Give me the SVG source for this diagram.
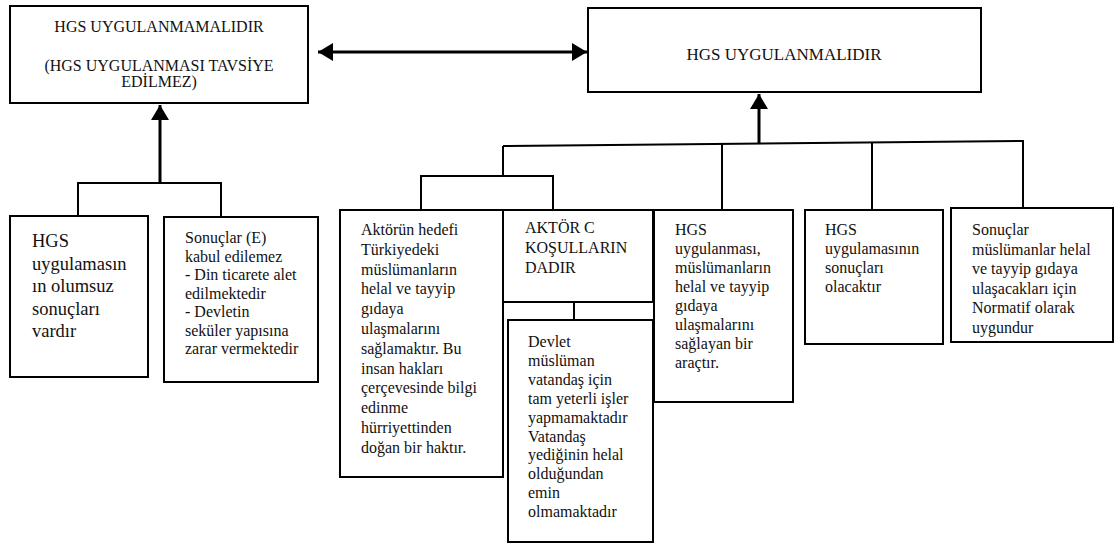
<svg xmlns="http://www.w3.org/2000/svg" width="1120" height="544" viewBox="0 0 1120 544">
<style>
.box{fill:#fff;stroke:#000;stroke-width:2}
text{font-family:'Liberation Serif','Times New Roman',serif;font-size:16px;fill:#111}
.c{text-anchor:middle}
.ln{stroke:#000;stroke-width:2;fill:none}
.thick{stroke:#000;stroke-width:3;fill:none}
</style>
<defs>
<marker id="ah" markerWidth="6" markerHeight="6" refX="5" refY="3" orient="auto-start-reverse" markerUnits="strokeWidth">
<path d="M0,0 L5,3 L0,6 Z" fill="#000"/>
</marker>
</defs>
<rect width="1120" height="544" fill="#fff"/>

<g id="connectors">
<line class="thick" x1="318" y1="52" x2="587" y2="52" marker-start="url(#ah)" marker-end="url(#ah)"/>
<line class="thick" x1="160" y1="183" x2="160" y2="105" marker-end="url(#ah)"/>
<polyline class="ln" points="78,216 78,183 221,183 221,217"/>
<line class="thick" x1="759" y1="143" x2="759" y2="94" marker-end="url(#ah)"/>
<line class="ln" x1="503" y1="146" x2="1024" y2="141"/>
<line class="ln" x1="503" y1="146" x2="503" y2="176"/>
<polyline class="ln" points="421,210 421,176 553,176 553,210"/>
<line class="ln" x1="722" y1="144" x2="722" y2="210"/>
<line class="ln" x1="872" y1="143" x2="872" y2="210"/>
<line class="ln" x1="1023" y1="141" x2="1023" y2="208"/>
<line class="ln" x1="574" y1="302" x2="574" y2="320"/>
</g>

<g id="n_uygulanmamali">
<rect class="box" x="10" y="6" width="298" height="97"/>
<text class="c" x="159" y="32">HGS UYGULANMAMALIDIR</text>
<text class="c" x="159" y="71">(HGS UYGULANMASI TAVSİYE</text>
<text class="c" x="159" y="87">EDİLMEZ)</text>
</g>

<g id="n_uygulanmali">
<rect class="box" x="588" y="8" width="393" height="84"/>
<text class="c" x="784" y="60" style="font-size:17px">HGS UYGULANMALIDIR</text>
</g>

<g id="n_olumsuz">
<rect class="box" x="10" y="216" width="138" height="161"/>
<text x="32" y="247" style="font-size:18.5px"><tspan x="32">HGS</tspan><tspan x="32" dy="22.5">uygulamasın</tspan><tspan x="32" dy="22.5">ın olumsuz</tspan><tspan x="32" dy="22.5">sonuçları</tspan><tspan x="32" dy="22.5">vardır</tspan></text>
</g>

<g id="n_sonuclar_e">
<rect class="box" x="164" y="217" width="154" height="165"/>
<text x="185" y="243"><tspan x="185">Sonuçlar (E)</tspan><tspan x="185" dy="18.5">kabul edilemez</tspan><tspan x="185" dy="18.5">- Din ticarete alet</tspan><tspan x="185" dy="18.5">edilmektedir</tspan><tspan x="185" dy="18.5">- Devletin</tspan><tspan x="185" dy="18.5">seküler yapısına</tspan><tspan x="185" dy="18.5">zarar vermektedir</tspan></text>
</g>

<g id="n_aktor_hedef">
<rect class="box" x="340" y="210" width="163" height="267"/>
<text x="361" y="235"><tspan x="361">Aktörün hedefi</tspan><tspan x="361" dy="19.8">Türkiyedeki</tspan><tspan x="361" dy="19.8">müslümanların</tspan><tspan x="361" dy="19.8">helal ve tayyip</tspan><tspan x="361" dy="19.8">gıdaya</tspan><tspan x="361" dy="19.8">ulaşmalarını</tspan><tspan x="361" dy="19.8">sağlamaktır. Bu</tspan><tspan x="361" dy="19.8">insan hakları</tspan><tspan x="361" dy="19.8">çerçevesinde bilgi</tspan><tspan x="361" dy="19.8">edinme</tspan><tspan x="361" dy="19.8">hürriyettinden</tspan><tspan x="361" dy="19.8">doğan bir haktır.</tspan></text>
</g>

<g id="n_aktor_c">
<rect class="box" x="503" y="210" width="150" height="92"/>
<text x="525" y="233"><tspan x="525">AKTÖR C</tspan><tspan x="525" dy="20">KOŞULLARIN</tspan><tspan x="525" dy="20">DADIR</tspan></text>
</g>

<g id="n_devlet">
<rect class="box" x="508" y="320" width="145" height="222"/>
<text x="528" y="347"><tspan x="528">Devlet</tspan><tspan x="528" dy="18.9">müslüman</tspan><tspan x="528" dy="18.9">vatandaş için</tspan><tspan x="528" dy="18.9">tam yeterli işler</tspan><tspan x="528" dy="18.9">yapmamaktadır</tspan><tspan x="528" dy="18.9">Vatandaş</tspan><tspan x="528" dy="18.9">yediğinin helal</tspan><tspan x="528" dy="18.9">olduğundan</tspan><tspan x="528" dy="18.9">emin</tspan><tspan x="528" dy="18.9">olmamaktadır</tspan></text>
</g>

<g id="n_hgs_arac">
<rect class="box" x="654" y="210" width="139" height="192"/>
<text x="675" y="235"><tspan x="675">HGS</tspan><tspan x="675" dy="19">uygulanması,</tspan><tspan x="675" dy="19">müslümanların</tspan><tspan x="675" dy="19">helal ve tayyip</tspan><tspan x="675" dy="19">gıdaya</tspan><tspan x="675" dy="19">ulaşmalarını</tspan><tspan x="675" dy="19">sağlayan bir</tspan><tspan x="675" dy="19">araçtır.</tspan></text>
</g>

<g id="n_hgs_sonuc">
<rect class="box" x="805" y="210" width="138" height="134"/>
<text x="825" y="235"><tspan x="825">HGS</tspan><tspan x="825" dy="19">uygulamasının</tspan><tspan x="825" dy="19">sonuçları</tspan><tspan x="825" dy="19">olacaktır</tspan></text>
</g>

<g id="n_normatif">
<rect class="box" x="951" y="208" width="162" height="134"/>
<text x="972" y="235"><tspan x="972">Sonuçlar</tspan><tspan x="972" dy="19.5">müslümanlar helal</tspan><tspan x="972" dy="19.5">ve tayyip gıdaya</tspan><tspan x="972" dy="19.5">ulaşacakları için</tspan><tspan x="972" dy="19.5">Normatif olarak</tspan><tspan x="972" dy="19.5">uygundur</tspan></text>
</g>
</svg>
